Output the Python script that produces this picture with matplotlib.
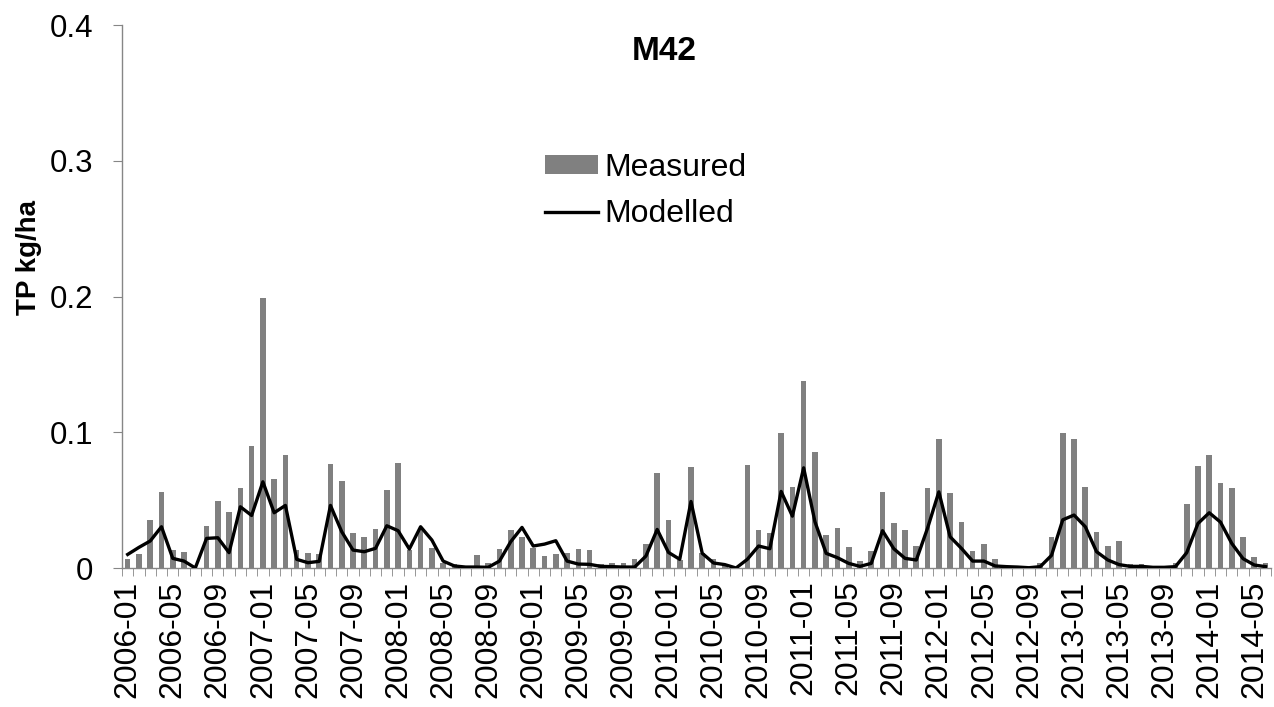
import numpy as np
import pandas as pd
import matplotlib
matplotlib.use("Agg")
import matplotlib.pyplot as plt

plt.rcParams['font.family'] = ['Liberation Sans', 'DejaVu Sans']

# monthly series, 2006-01 .. 2014-06
months = pd.date_range("2006-01-01", periods=102, freq="MS").strftime("%Y-%m").tolist()

measured = [
    0.0064, 0.0105, 0.0353, 0.0559, 0.0132, 0.0115, 0.0, 0.0311, 0.0493, 0.0412,
    0.0591, 0.0902, 0.199, 0.0654, 0.0831, 0.0132, 0.0113, 0.0103, 0.0765, 0.0642,
    0.026, 0.0228, 0.0287, 0.0578, 0.0772, 0.013, 0.029, 0.0145, 0.0034, 0.003,
    0.0005, 0.0098, 0.0039, 0.0137, 0.0277, 0.0228, 0.015, 0.0091, 0.0103, 0.0113,
    0.0142, 0.0135, 0.0027, 0.0037, 0.0034, 0.0064, 0.0179, 0.0699, 0.0353, 0.0059,
    0.0743, 0.011, 0.0069, 0.0032, 0.0005, 0.076, 0.0282, 0.0257, 0.0995, 0.060,
    0.138, 0.0858, 0.024, 0.0292, 0.0157, 0.0051, 0.0125, 0.0559, 0.0328, 0.0279,
    0.0159, 0.0593, 0.0953, 0.0556, 0.0338, 0.0125, 0.0174, 0.0069, 0.0005, 0.001,
    0.0005, 0.0039, 0.0225, 0.0998, 0.0949, 0.0596, 0.0267, 0.0159, 0.0199, 0.0029,
    0.0027, 0.0005, 0.0005, 0.0039, 0.0468, 0.0748, 0.0836, 0.0627, 0.0588, 0.0228,
    0.0081, 0.0039,
]

modelled = [
    0.010, 0.0152, 0.0199, 0.0304, 0.0071, 0.0051, 0.0, 0.0218, 0.0223, 0.0113,
    0.0451, 0.0387, 0.0635, 0.0407, 0.0461, 0.0064, 0.0039, 0.0049, 0.0461, 0.0267,
    0.0132, 0.012, 0.0145, 0.0311, 0.0275, 0.014, 0.0304, 0.0206, 0.0051, 0.0015,
    0.0007, 0.0007, 0.0005, 0.0051, 0.0194, 0.0299, 0.0162, 0.0176, 0.0201, 0.0051,
    0.0029, 0.0027, 0.0012, 0.001, 0.0007, 0.0007, 0.0088, 0.0284, 0.0115, 0.0064,
    0.049, 0.0108, 0.0037, 0.0025, 0.0, 0.0064, 0.0162, 0.0142, 0.0564, 0.0382,
    0.0738, 0.0341, 0.0108, 0.0076, 0.0034, 0.0012, 0.0034, 0.0275, 0.0142, 0.0071,
    0.0059, 0.0294, 0.0561, 0.023, 0.0145, 0.0051, 0.0051, 0.0015, 0.001, 0.0007,
    0.0002, 0.001, 0.0093, 0.0355, 0.039, 0.0304, 0.012, 0.0059, 0.0025, 0.0012,
    0.0012, 0.0005, 0.0005, 0.001, 0.0113, 0.0328, 0.0407, 0.0338, 0.0181, 0.0069,
    0.0022, 0.001,
]

yticks = [0, 0.1, 0.2, 0.3, 0.4]
ytick_labels = ["0", "0.1", "0.2", "0.3", "0.4"]

fig = plt.figure(figsize=(12.74, 7.07), dpi=100)
ax = fig.add_axes([0.0958, 0.1966, 0.902, 0.768])

x = np.arange(len(months))
bars = ax.bar(x, measured, width=0.5, color="#808080", label="Measured", zorder=2)
line, = ax.plot(x, modelled, color="black", linewidth=2.4, label="Modelled", zorder=3)

ax.set_xlim(-0.5, len(months) - 0.5)
ax.set_ylim(0, 0.4)

# spines
for s in ["top", "right"]:
    ax.spines[s].set_visible(False)
for s in ["left", "bottom"]:
    ax.spines[s].set_color("#868686")
    ax.spines[s].set_linewidth(1.0)

# y axis
ax.set_yticks(yticks)
ax.set_yticklabels(ytick_labels, fontsize=22.5)
ax.tick_params(axis="y", length=6.5, color="#868686", pad=14)

# x axis: labels every 4th month, ticks between categories
ax.set_xticks(x[::4])
ax.set_xticklabels(months[::4], rotation=90, fontsize=23)
ax.tick_params(axis="x", which="major", length=0, pad=9)
ax.set_xticks(np.arange(-0.5, len(months), 1), minor=True)
ax.tick_params(axis="x", which="minor", length=6, color="#868686")

fig.text(29 / 1274, 1 - 258 / 707, "TP kg/ha", rotation=90, fontsize=20,
         fontweight="bold", ha="center", va="center")
fig.text(664 / 1274, 1 - 52 / 707, "M42", fontsize=24, fontweight="bold",
         ha="center", va="center")

ax.legend([bars, line], ["Measured", "Modelled"], loc="center left",
          bbox_to_anchor=(529 / 1274, 1 - 191 / 707),
          bbox_transform=fig.transFigure, frameon=False, fontsize=23,
          borderpad=0, handlelength=1.65, handleheight=0.55,
          handletextpad=0.2, labelspacing=0.5)

fig.savefig("out.png", dpi=100)
